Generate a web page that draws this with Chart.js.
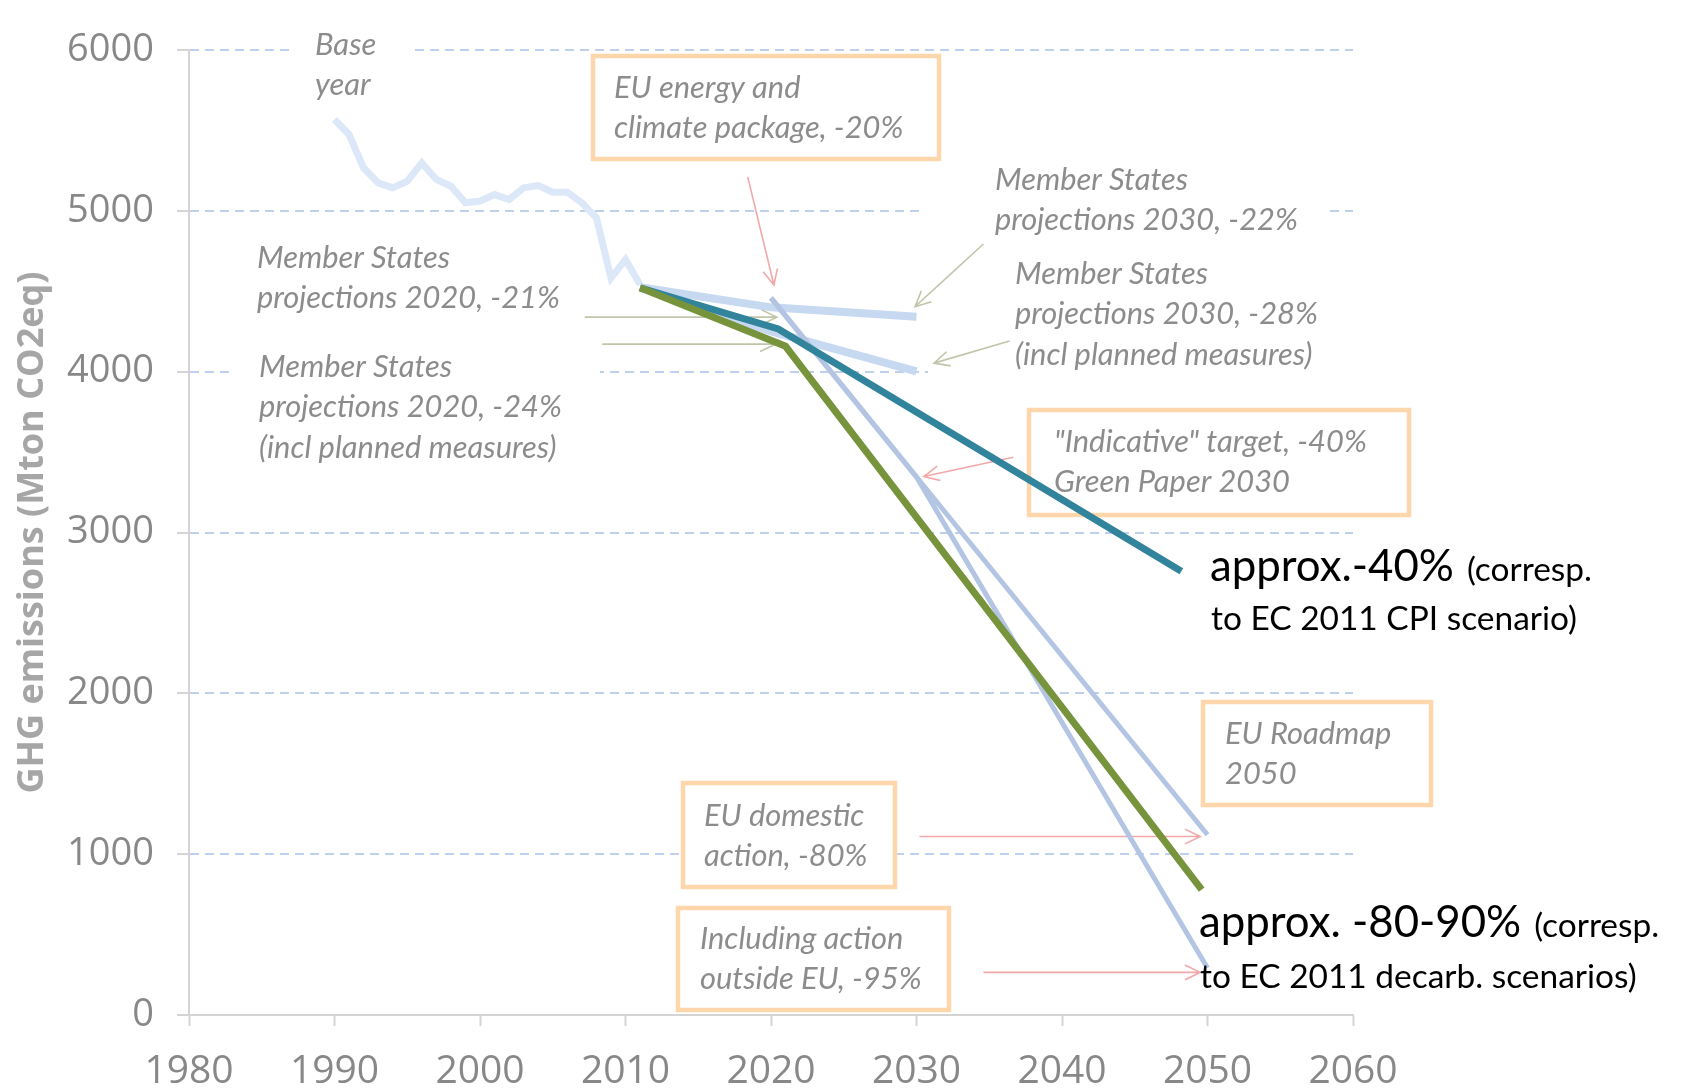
<!DOCTYPE html>
<html>
<head>
<meta charset="utf-8">
<script src="https://cdn.jsdelivr.net/npm/chart.js@4.4.1/dist/chart.umd.min.js"></script>
<style>
  html, body { margin: 0; padding: 0; background: #fff; }
  #wrap { width: 1681px; height: 1088px; position: relative; }
</style>
</head>
<body>
<div id="wrap"><canvas id="ghgChart"></canvas></div>
<script>
// historical EU emissions (Mton CO2eq)
const histYears = [1990, 1991, 1992, 1993, 1994, 1995, 1996, 1997, 1998, 1999, 2000,
  2001, 2002, 2003, 2004, 2005, 2006, 2007, 2008, 2009, 2010, 2011];
const histValues = [5568, 5474, 5267, 5174, 5143, 5184, 5298, 5195, 5153, 5050, 5060,
  5101, 5070, 5143, 5157, 5116, 5116, 5050, 4957, 4583, 4697, 4542];

// Member States projections
const msYears = [2011, 2020, 2030];
const msExisting = [4525, 4400, 4341];
const msPlanned = [4525, 4250, 4002];

// Green Paper / Roadmap 2050 pathway
const roadmapYears = [2020, 2030, 2050];
const roadmapDomestic = [4459, 3345, 1121];
const roadmapOutside = [4459, 3345, 292];

// EC 2011 scenarios
const cpiYears = [2011, 2020.5, 2048.2];
const cpiValues = [4521, 4266, 2759];
const decarbYears = [2011, 2021, 2049.6];
const decarbValues = [4521, 4158, 779];

const noteGray = "#8c8c8c";
const olive = "#c0c6aa";
const pink = "#f2a8a8";
const frameColor = "#fdd6ac";

// text notes: bg = white cover [x1,y1,x2,y2], frame = orange box
const notes = [
  { lines: ["Base", "year"], x: 315, y: 45, bg: [295, 18, 410, 112] },
  { lines: ["Member States", "projections 2020, -21%"], x: 257, y: 258 },
  { lines: ["Member States", "projections 2020, -24%", "(incl planned measures)"], x: 259, y: 367, bg: [232, 340, 600, 470] },
  { lines: ["Member States", "projections 2030, -22%"], x: 995, y: 180, bg: [920, 155, 1324, 240] },
  { lines: ["Member States", "projections 2030, -28%", "(incl planned measures)"], x: 1015, y: 274, bg: [928, 250, 1360, 380] },
  { lines: ["EU energy and", "climate package, -20%"], x: 614, y: 88, frame: [593, 56, 939, 159] },
  { lines: ["\"Indicative\" target, -40%", "Green Paper 2030"], x: 1054, y: 442, frame: [1029, 410, 1409, 515] },
  { lines: ["EU Roadmap", "2050"], x: 1225, y: 734, frame: [1203, 702, 1431, 805] },
  { lines: ["EU domestic", "action, -80%"], x: 704, y: 816, frame: [683, 783, 895, 887] },
  { lines: ["Including action", "outside EU, -95%"], x: 700, y: 939, frame: [678, 908, 949, 1010] },
];

// arrows in data space: [year, value] -> [year, value]
const arrows = [
  { from: [2007.2, 4339], to: [2020.4, 4339], color: olive },
  { from: [2008.4, 4171], to: [2020.3, 4171], color: olive },
  { from: [2034.6, 4794], to: [2029.9, 4404], color: olive },
  { from: [2036.4, 4191], to: [2031.2, 4053], color: olive },
  { from: [2018.4, 5211], to: [2020.2, 4539], color: pink },
  { from: [2036.65, 3468], to: [2030.5, 3348], color: pink },
  { from: [2030.2, 1110], to: [2049.5, 1110], color: pink },
  { from: [2034.6, 265], to: [2049.5, 265], color: pink },
];

const results = [
  { big: "approx.-40%", small: "(corresp.", second: "to EC 2011 CPI scenario)", x: 1210, y: 581, y2: 630 },
  { big: "approx. -80-90%", small: "(corresp.", second: "to EC 2011 decarb. scenarios)", x: 1199, y: 937, y2: 988 },
];

function toPoints(xs, ys) {
  return xs.map((x, i) => ({ x, y: ys[i] }));
}

function series(xs, ys, color, width) {
  return {
    data: toPoints(xs, ys),
    showLine: true,
    borderColor: color,
    borderWidth: width,
    pointRadius: 0,
    tension: 0,
    fill: false,
  };
}

function fitSize(ctx, font, text, width) {
  ctx.font = font.replace("SIZE", "100px");
  return (100 * width) / ctx.measureText(text).width;
}

function drawArrow(ctx, x1, y1, x2, y2, color) {
  const ang = Math.atan2(y2 - y1, x2 - x1);
  const head = 17;
  const spread = Math.PI / 7;
  ctx.strokeStyle = color;
  ctx.lineWidth = 1.6;
  ctx.beginPath();
  ctx.moveTo(x1, y1);
  ctx.lineTo(x2, y2);
  ctx.moveTo(x2 - head * Math.cos(ang - spread), y2 - head * Math.sin(ang - spread));
  ctx.lineTo(x2, y2);
  ctx.lineTo(x2 - head * Math.cos(ang + spread), y2 - head * Math.sin(ang + spread));
  ctx.stroke();
}

const annotations = {
  id: "annotations",
  beforeDatasetsDraw(chart) {
    const { ctx, scales: { x, y } } = chart;
    ctx.save();
    const noteSize = fitSize(ctx, "italic SIZE Lato", "projections 2020, -21%", 303);

    notes.forEach((n) => {
      const r = n.frame || n.bg;
      if (!r) return;
      ctx.fillStyle = "#fff";
      ctx.fillRect(r[0], r[1], r[2] - r[0], r[3] - r[1]);
      if (n.frame) {
        ctx.strokeStyle = frameColor;
        ctx.lineWidth = 4.5;
        ctx.strokeRect(r[0], r[1], r[2] - r[0], r[3] - r[1]);
      }
    });

    ctx.font = `italic ${noteSize}px Lato`;
    ctx.fillStyle = noteGray;
    ctx.textAlign = "left";
    ctx.textBaseline = "middle";
    notes.forEach((n) => {
      n.lines.forEach((line, i) => ctx.fillText(line, n.x, n.y + i * 40.5));
    });

    arrows.forEach((a) => {
      drawArrow(ctx,
        x.getPixelForValue(a.from[0]), y.getPixelForValue(a.from[1]),
        x.getPixelForValue(a.to[0]), y.getPixelForValue(a.to[1]), a.color);
    });
    ctx.restore();
  },
  afterDatasetsDraw(chart) {
    const { ctx } = chart;
    ctx.save();
    const bigSize = fitSize(ctx, "SIZE Lato", "approx.-40%", 244);
    const smallSize = fitSize(ctx, "SIZE Lato", "to EC 2011 CPI scenario)", 366);
    ctx.fillStyle = "#000";
    ctx.textAlign = "left";
    ctx.textBaseline = "alphabetic";
    results.forEach((r) => {
      ctx.font = `${bigSize}px Lato`;
      ctx.fillText(r.big, r.x, r.y);
      const w = ctx.measureText(r.big).width;
      ctx.font = `${smallSize}px Lato`;
      ctx.fillText(r.small, r.x + w + 13, r.y);
      ctx.fillText(r.second, r.x + 1, r.y2);
    });
    ctx.restore();
  },
};

new Chart(document.getElementById("ghgChart"), {
  type: "scatter",
  data: {
    datasets: [
      series(decarbYears, decarbValues, "#77933c", 7),
      series(cpiYears, cpiValues, "#31849b", 7),
      series(roadmapYears, roadmapDomestic, "#b3c5e3", 5),
      series(roadmapYears, roadmapOutside, "#b3c5e3", 5),
      series(msYears, msExisting, "#c6d9f1", 8),
      series(msYears, msPlanned, "#c6d9f1", 8),
      series(histYears, histValues, "#dce8f8", 7),
    ],
  },
  options: {
    responsive: true,
    maintainAspectRatio: false,
    animation: false,
    layout: { padding: { top: 50, right: 328, left: 0, bottom: 0 } },
    plugins: {
      legend: { display: false },
      tooltip: { enabled: false },
    },
    scales: {
      x: {
        type: "linear",
        min: 1980,
        max: 2060,
        ticks: {
          stepSize: 10,
          color: "#888",
          font: { family: "Open Sans", size: 39 },
          padding: 22,
          callback: (v) => String(v),
        },
        grid: { drawOnChartArea: false, tickLength: 11, tickColor: "#d4d4d4", tickWidth: 2 },
        border: { color: "#d4d4d4", width: 2 },
        afterFit: (s) => { s.height = 73; },
      },
      y: {
        min: 0,
        max: 6000,
        ticks: {
          stepSize: 1000,
          color: "#888",
          font: { family: "Open Sans", size: 38 },
          padding: 23,
          callback: (v) => String(v),
        },
        grid: {
          color: (c) => (c.tick && c.tick.value === 0 ? "rgba(0,0,0,0)" : "#bfd0ec"),
          lineWidth: 2,
          tickLength: 12,
          tickColor: "#d4d4d4",
          tickBorderDash: [],
        },
        border: { dash: [9, 6], color: "#d4d4d4", width: 2 },
        title: {
          display: true,
          text: "GHG emissions (Mton CO2eq)",
          color: "#a6a6a6",
          font: { family: "Open Sans", size: 36, weight: "bold" },
          padding: { top: 11, bottom: 0 },
        },
        afterFit: (s) => { s.width = 189; },
      },
    },
  },
  plugins: [annotations],
});
</script>
</body>
</html>
